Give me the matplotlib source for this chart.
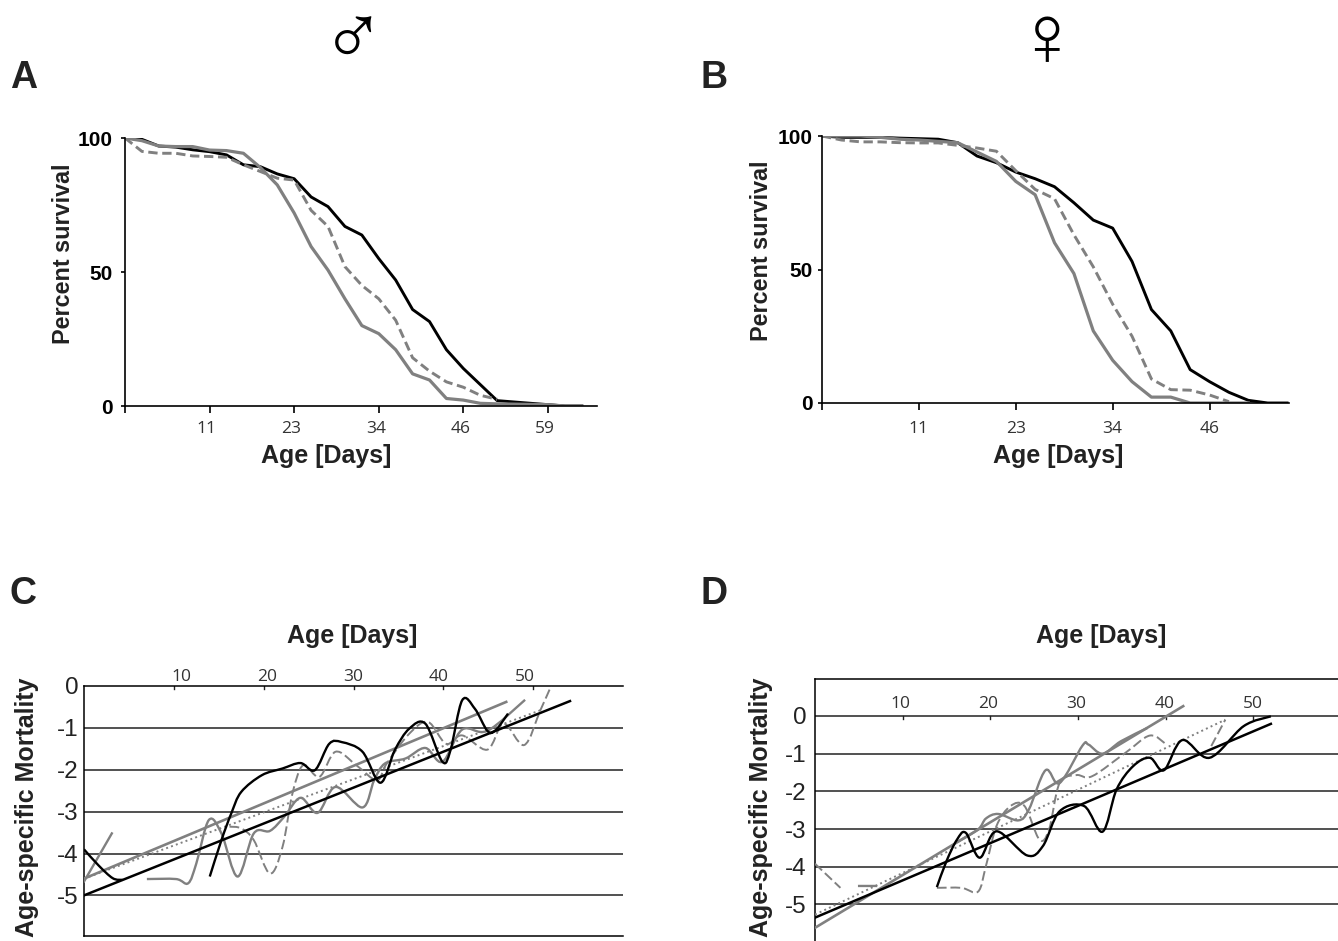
import matplotlib
matplotlib.use("Agg")
import matplotlib.pyplot as plt
from matplotlib.path import Path
from matplotlib.patches import PathPatch
from matplotlib.transforms import ScaledTranslation

W, H = 1338, 941
GREY = "#808080"
BOLD = "Liberation Sans"
THIN = "Open Sans"

# survival panels, x is the category index (5 categories between two ticks)
a_labels = ["11", "23", "34", "46", "59"]
a_black = [100, 99.5, 97, 96.6, 95.6, 94.9, 93.7, 90, 89.3, 86.6, 84.8, 78, 74.4, 67, 63.8, 55, 47, 36,
           31.5, 21, 14, 8, 2, 1.5, 1, 0.5, 0, 0]
a_grey = [100, 99, 97, 96.8, 96.8, 95.5, 95.3, 94.3, 89, 82.5, 72, 59.5, 50.7, 40, 30, 27, 21, 12, 9.7,
          2.8, 2.2, 1, 0.8, 0.7, 0.6, 0.5, 0, 0]
a_dash = [100, 95, 94.3, 94.3, 93.3, 93.1, 92.8, 90, 87.5, 85, 84.3, 73, 67, 52, 45, 40, 32, 18, 13, 9,
          7, 4, 2.5]

b_labels = ["11", "23", "34", "46"]
b_black = [100, 99.5, 99.5, 99.5, 99.2, 99, 98.8, 97.5, 92.5, 90, 86.5, 84, 81, 75, 68.5, 65.5, 53, 35,
           27, 12.5, 8, 4, 1, 0, 0]
b_grey = [100, 100, 100, 99.5, 98.8, 98.5, 98, 97.5, 94, 90.5, 83, 78, 60, 48.5, 27, 16, 8, 2.2, 2.2,
          0, 0, 0, 0]
b_dash = [100, 98.5, 97.8, 97.8, 97.5, 97.4, 97.4, 96.5, 95.5, 94.3, 87, 80, 76.5, 63, 51, 37, 25, 9, 5,
          4.8, 3, 0.5]

age_labels = ["10", "20", "30", "40", "50"]
age_ticks = [10, 20, 30, 40, 50]

# mortality panel C, age and log mortality
c_black1_x = [0, 1.6, 3.2, 4.3]
c_black1_y = [-3.9, -4.28, -4.59, -4.63]
c_black2_x = [14, 15.3, 16.4, 17.5, 19.8, 22.1, 24.1, 25.7, 27.3, 28.7, 31, 33, 34.6, 36.2, 38, 39.9, 40.8,
              42.1, 43.5, 44.9, 45.8, 47.2]
c_black2_y = [-4.55, -3.68, -3.04, -2.53, -2.13, -1.97, -1.84, -2.01, -1.38, -1.34, -1.57, -2.31, -1.53,
              -1.02, -0.9, -1.81, -1.53, -0.34, -0.54, -1.07, -1.06, -0.66]
c_grey_x = [7, 10.25, 11.6, 12.5, 13.9, 15.3, 17.1, 18.9, 20.7, 22.3, 24.1, 26, 28, 31, 32.3, 33.5, 35.8,
            38, 39.9, 42.1, 44.9, 49.1]
c_grey_y = [-4.61, -4.61, -4.71, -4.24, -3.2, -3.52, -4.55, -3.52, -3.46, -3.12, -2.67, -3.03, -2.41, -2.9,
            -2.25, -1.85, -1.73, -1.48, -1.81, -1.04, -1.07, -0.33]
c_dash_x = [16.2, 17.5, 18.9, 20.7, 22.1, 23.2, 24.4, 26.2, 28, 30.3, 32.6, 33.7, 36.2, 38.3, 40.3, 42.1,
            44.9, 46.7, 49, 50.8, 52]
c_dash_y = [-3.36, -3.4, -3.68, -4.48, -3.84, -2.57, -1.89, -2.17, -1.57, -1.89, -2.25, -1.85, -1.14, -0.86,
            -1.38, -1.18, -1.52, -0.9, -1.41, -0.58, 0]
c_short_x = [0, 3.1]
c_short_y = [-4.67, -3.52]
c_fit_black_x = [0, 54.1]
c_fit_black_y = [-5, -0.36]
c_fit_grey_x = [0, 47]
c_fit_grey_y = [-4.6, -0.38]
c_fit_dot_x = [0, 50.8]
c_fit_dot_y = [-4.6, -0.58]

# mortality panel D
d_black_x = [13.9, 15, 16.2, 17.2, 18.8, 20.7, 24.2, 26, 27.9, 30.7, 32.8, 34.4, 36.3, 38.2, 39.8, 41.9, 45,
             48.9, 52]
d_black_y = [-4.54, -3.85, -3.28, -3.1, -3.76, -3.06, -3.7, -3.45, -2.53, -2.39, -3.07, -1.95, -1.33, -1.11,
             -1.44, -0.64, -1.11, -0.27, -0.01]
d_grey1_x = [4.9, 7.1]
d_grey1_y = [-4.51, -4.51]
d_grey2_x = [16.2, 18.6, 19.5, 20.9, 23.2, 24.4, 26.3, 27.9, 30.5, 31.2, 32.8, 34.9, 37.9]
d_grey2_y = [-3.35, -3.01, -2.72, -2.6, -2.77, -2.48, -1.44, -1.78, -0.79, -0.76, -1, -0.67, -0.32]
d_dash1_x = [0, 2.9]
d_dash1_y = [-3.92, -4.56]
d_dash2_x = [13.9, 16.7, 18.6, 19.5, 20.7, 22.3, 23.9, 25.6, 26.7, 27.9, 29.8, 31.6, 35.4, 38.2, 40.1]
d_dash2_y = [-4.56, -4.56, -4.66, -3.98, -2.92, -2.39, -2.39, -3.28, -3.01, -1.78, -1.57, -1.6, -0.98, -0.52,
             -0.76]
d_dash3_x = [45.2, 46.8]
d_dash3_y = [-0.8, -0.1]
d_fit_black_x = [0, 52]
d_fit_black_y = [-5.35, -0.21]
d_fit_grey_x = [0, 42]
d_fit_grey_y = [-5.62, 0.26]
d_fit_dot_x = [0, 46.8]
d_fit_dot_y = [-5.27, -0.1]


def make_axes(fig, left, right, top, bottom):
    return fig.add_axes([left / W, 1 - bottom / H, (right - left) / W, (bottom - top) / H])


def put_text(fig, x, y, s, **kw):
    fig.text(x / W, 1 - y / H, s, ha="center", va="center", **kw)


def smooth(ax, xs, ys, **kw):
    # excel style smoothed line, bezier through the read points
    verts = [(xs[0], ys[0])]
    codes = [Path.MOVETO]
    n = len(xs)
    for i in range(n - 1):
        p0 = i - 1 if i > 0 else i
        p3 = i + 2 if i + 2 < n else i + 1
        c1 = (xs[i] + (xs[i + 1] - xs[p0]) / 6, ys[i] + (ys[i + 1] - ys[p0]) / 6)
        c2 = (xs[i + 1] - (xs[p3] - xs[i]) / 6, ys[i + 1] - (ys[p3] - ys[i]) / 6)
        verts += [c1, c2, (xs[i + 1], ys[i + 1])]
        codes += [Path.CURVE4] * 3
    ax.add_patch(PathPatch(Path(verts, codes), fill=False, capstyle="butt", **kw))


def survival(ax, black, grey, dash, labels, xmax, shift, xpad, ypad):
    ax.plot(range(len(black)), black, color="black", lw=2.1)
    ax.plot(range(len(dash)), dash, color=GREY, lw=2.1, ls=(0, (3.2, 1.6)))
    ax.plot(range(len(grey)), grey, color=GREY, lw=2.3)
    ax.set_xlim(0, xmax)
    ax.set_ylim(0, 100)
    for side in ["top", "right"]:
        ax.spines[side].set_visible(False)
    for side in ["left", "bottom"]:
        ax.spines[side].set_linewidth(1.2)
    ax.set_xticks([0] + [5 * (i + 1) for i in range(len(labels))])
    ax.set_xticklabels([""] + labels, family=THIN, fontsize=12.5, color="#333333")
    ax.set_yticks([0, 50, 100])
    ax.set_yticklabels(["0", "50", "100"], family=BOLD, weight="bold", fontsize=15)
    ax.tick_params(axis="x", length=5, width=1.2, pad=xpad)
    ax.tick_params(axis="y", length=3, width=1.2, pad=ypad)
    for lab in ax.get_xticklabels():
        lab.set_transform(lab.get_transform() + ScaledTranslation(shift / 100, 0, fig.dpi_scale_trans))


def mortality(ax, ymin, ymax, xmax, lab_pos, lab_y, lab_off, grid, ypad):
    ax.set_xlim(0, xmax)
    ax.set_ylim(ymin, ymax)
    ax.spines["right"].set_visible(False)
    for side in ["top", "left"]:
        ax.spines[side].set_linewidth(1.1)
    for y in grid:
        ax.axhline(y, color="#222222", lw=1.1, zorder=1)
    ax.set_xticks([])
    # tick marks hang from the zero line, the labels do not quite line up with them
    for age in age_ticks:
        ax.plot([age, age], [lab_y, lab_y - 0.07], color="#222222", lw=1)
    for age, lab in zip(lab_pos, age_labels):
        ax.annotate(lab, (age, lab_y), xytext=(0, lab_off), textcoords="offset points", ha="center",
                    va="bottom", family=THIN, fontsize=12.5, color="#333333", annotation_clip=False)
    ax.set_yticks([0, -1, -2, -3, -4, -5])
    ax.set_yticklabels(["0", "-1", "-2", "-3", "-4", "-5"], family=BOLD, fontsize=17.5, color="#222222")
    ax.tick_params(axis="y", length=0, pad=ypad)


fig = plt.figure(figsize=(W / 100, H / 100), dpi=100)

ax_a = make_axes(fig, 125, 597, 138, 406)
survival(ax_a, a_black, a_grey, a_dash, a_labels, 27.9, -3, 6, 6)
ax_b = make_axes(fig, 822, 1289, 136, 403)
survival(ax_b, b_black, b_grey, b_dash, b_labels, 24.1, 0, 8, 4)

ax_c = make_axes(fig, 84, 623, 686, 936)
mortality(ax_c, -5.97, 0, 60, [10.8, 20.4, 30, 39.5, 49.1], 0, 1, [-1, -2, -3, -4, -5], 4)
ax_c.spines["bottom"].set_linewidth(1.1)
smooth(ax_c, c_dash_x, c_dash_y, edgecolor=GREY, lw=1.4, ls=(0, (5, 2)), zorder=3)
smooth(ax_c, c_grey_x, c_grey_y, edgecolor=GREY, lw=1.7, zorder=3)
ax_c.plot(c_short_x, c_short_y, color=GREY, lw=1.7, zorder=3)
ax_c.plot(c_fit_dot_x, c_fit_dot_y, color=GREY, lw=1.4, ls=":", zorder=3)
ax_c.plot(c_fit_grey_x, c_fit_grey_y, color=GREY, lw=1.9, zorder=3)
smooth(ax_c, c_black1_x, c_black1_y, edgecolor="black", lw=1.7, zorder=4)
smooth(ax_c, c_black2_x, c_black2_y, edgecolor="black", lw=1.7, zorder=4)
ax_c.plot(c_fit_black_x, c_fit_black_y, color="black", lw=1.8, zorder=4)

ax_d = make_axes(fig, 815, 1341, 679, 941)
mortality(ax_d, -5.97, 0.98, 60, [9.7, 19.8, 29.8, 39.9, 50], 0, 3, [0, -1, -2, -3, -4, -5], 6)
ax_d.spines["bottom"].set_visible(False)
smooth(ax_d, d_dash1_x, d_dash1_y, edgecolor=GREY, lw=1.4, ls=(0, (5, 2)), zorder=3)
smooth(ax_d, d_dash2_x, d_dash2_y, edgecolor=GREY, lw=1.4, ls=(0, (5, 2)), zorder=3)
smooth(ax_d, d_dash3_x, d_dash3_y, edgecolor=GREY, lw=1.4, ls=(0, (5, 2)), zorder=3)
smooth(ax_d, d_grey1_x, d_grey1_y, edgecolor=GREY, lw=1.7, zorder=3)
smooth(ax_d, d_grey2_x, d_grey2_y, edgecolor=GREY, lw=1.7, zorder=3)
ax_d.plot(d_fit_dot_x, d_fit_dot_y, color=GREY, lw=1.4, ls=":", zorder=3)
ax_d.plot(d_fit_grey_x, d_fit_grey_y, color=GREY, lw=1.9, zorder=3)
smooth(ax_d, d_black_x, d_black_y, edgecolor="black", lw=1.7, zorder=4)
ax_d.plot(d_fit_black_x, d_fit_black_y, color="black", lw=1.8, zorder=4)

lab_kw = dict(family=BOLD, weight="bold", color="#222222")
put_text(fig, 326, 456, "Age [Days]", fontsize=18, **lab_kw)
put_text(fig, 1058, 456, "Age [Days]", fontsize=18, **lab_kw)
put_text(fig, 352, 636, "Age [Days]", fontsize=18, **lab_kw)
put_text(fig, 1101, 636, "Age [Days]", fontsize=18, **lab_kw)
put_text(fig, 64, 254, "Percent survival", fontsize=16.8, rotation=90, **lab_kw)
put_text(fig, 762, 251, "Percent survival", fontsize=16.8, rotation=90, **lab_kw)
put_text(fig, 27, 807, "Age-specific Mortality", fontsize=18, rotation=90, **lab_kw)
put_text(fig, 761, 807, "Age-specific Mortality", fontsize=18, rotation=90, **lab_kw)

put_text(fig, 24, 78, "A", fontsize=27, **lab_kw)
put_text(fig, 714, 78, "B", fontsize=27, **lab_kw)
put_text(fig, 23, 594, "C", fontsize=27, **lab_kw)
put_text(fig, 714, 594, "D", fontsize=27, **lab_kw)

put_text(fig, 353, 43, "\u2642", fontsize=62, family=["Liberation Sans", "DejaVu Sans"], color="black")
put_text(fig, 1046, 43, "\u2640", fontsize=62, family=["Liberation Sans", "DejaVu Sans"], color="black")

fig.savefig("out.png", dpi=100)
